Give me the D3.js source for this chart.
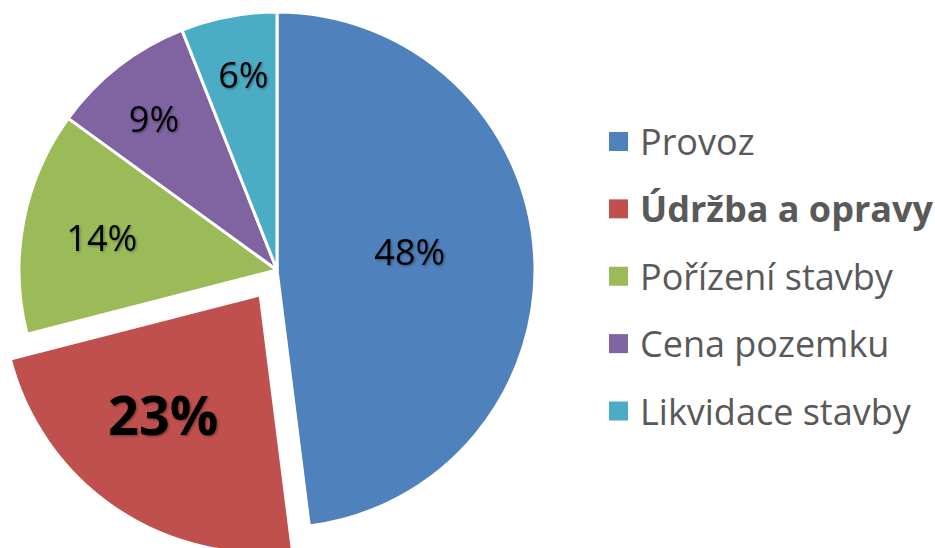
<!DOCTYPE html>
<html>
<head>
<meta charset="utf-8">
<script src="https://cdn.jsdelivr.net/npm/d3@7"></script>
<style>
  html, body { margin: 0; padding: 0; background: #ffffff; }
  svg { display: block; }
</style>
</head>
<body>
<svg id="chart" width="935" height="548"></svg>
<script>
// ---- data ----
const categories = ["Provoz", "Údržba a opravy", "Pořízení stavby", "Cena pozemku", "Likvidace stavby"];
const values = [48, 23, 14, 9, 6];
const labels = ["48%", "23%", "14%", "9%", "6%"];
const colors = ["#4F81BD", "#C0504D", "#9BBB59", "#8064A2", "#4BACC6"];
const highlighted = "Údržba a opravy";

// ---- layout ----
const W = 935, H = 548;
const cx = 277, cy = 270, R = 258;
const explode = 30;
const FONT = "'Open Sans', Lato, 'DejaVu Sans', sans-serif";
// label radius and angle nudge (degrees) per slice, in category order
const labelR = [134, 155, 178, 195, 198];
const labelNudge = [-4, 4.5, -0.6, -1.3, 1];

const svg = d3.select("#chart");

const defs = svg.append("defs");
const f = defs.append("filter").attr("id", "shadow").attr("x", "-20%").attr("y", "-20%").attr("width", "140%").attr("height", "140%");
f.append("feDropShadow").attr("dx", 1.2).attr("dy", 1.2).attr("stdDeviation", 1.1)
  .attr("flood-color", "#000").attr("flood-opacity", 0.35);

const pie = d3.pie().sort(null).value(d => d.v);
const data = categories.map((c, i) => ({ c, v: values[i], label: labels[i], color: colors[i], i }));
const arcs = pie(data);
const arc = d3.arc().innerRadius(0).outerRadius(R);

function offsetFor(d) {
  if (d.data.c !== highlighted) return [0, 0];
  const m = (d.startAngle + d.endAngle) / 2;
  return [Math.sin(m) * explode, -Math.cos(m) * explode];
}

const g = svg.append("g").attr("transform", `translate(${cx},${cy})`);

const slices = g.selectAll("g.slice").data(arcs).join("g")
  .attr("class", "slice")
  .attr("transform", d => { const o = offsetFor(d); return `translate(${o[0]},${o[1]})`; });

slices.append("path")
  .attr("d", arc)
  .attr("fill", d => d.data.color)
  .attr("stroke", "#ffffff")
  .attr("stroke-width", 3)
  .attr("stroke-linejoin", "round");

slices.append("text")
  .attr("transform", d => {
    const m = (d.startAngle + d.endAngle) / 2 + labelNudge[d.data.i] * Math.PI / 180;
    const r = labelR[d.data.i];
    return `translate(${Math.sin(m) * r},${-Math.cos(m) * r})`;
  })
  .attr("text-anchor", "middle")
  .attr("dy", "0.36em")
  .attr("font-family", FONT)
  .attr("font-size", d => d.data.c === highlighted ? 54 : 36)
  .attr("font-weight", d => d.data.c === highlighted ? "bold" : "normal")
  .attr("fill", "#000")
  .attr("filter", "url(#shadow)")
  .text(d => d.data.label);

// ---- legend ----
const legendY = d3.scalePoint().domain(categories).range([141.5, 411]);
const leg = svg.append("g").selectAll("g").data(data).join("g")
  .attr("transform", d => `translate(609,${legendY(d.c)})`);
leg.append("rect")
  .attr("x", 0).attr("y", -9.5).attr("width", 19).attr("height", 19)
  .attr("fill", d => d.color);
leg.append("text")
  .attr("x", 31).attr("y", 13.5)
  .attr("font-family", FONT)
  .attr("font-size", 36)
  .attr("font-weight", d => d.c === highlighted ? "bold" : "normal")
  .attr("fill", "#595959")
  .text(d => d.c);
</script>
</body>
</html>
